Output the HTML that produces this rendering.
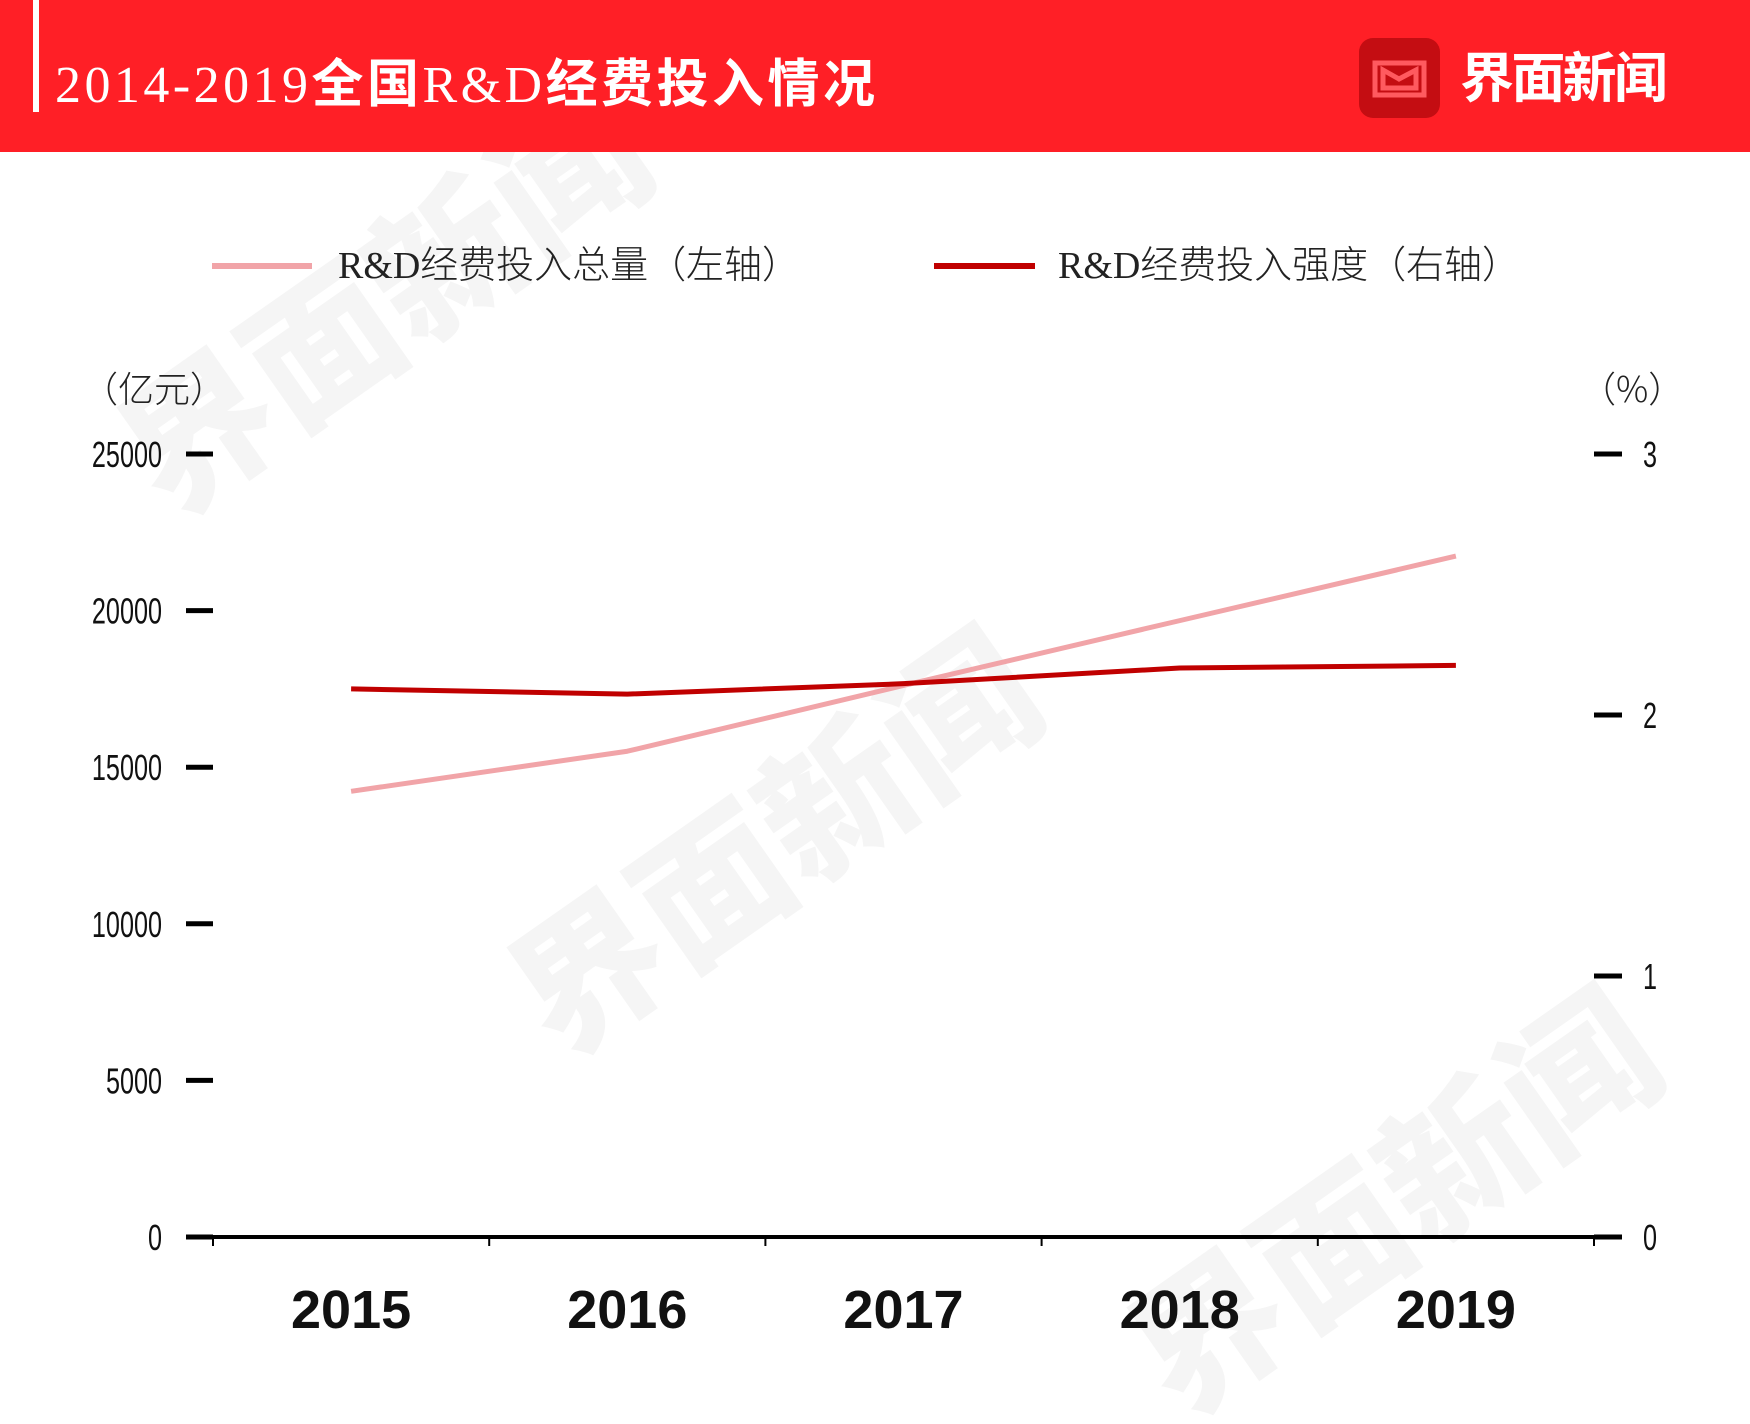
<!DOCTYPE html>
<html><head><meta charset="utf-8"><style>
html,body{margin:0;width:1750px;height:1424px;background:#fff;overflow:hidden;font-family:"Liberation Sans","Noto Sans CJK SC",sans-serif;}
svg{display:block;}
</style></head><body>
<svg width="1750" height="1424" xmlns="http://www.w3.org/2000/svg">
<g fill="#f5f5f5" font-family="Noto Sans CJK SC, sans-serif" font-weight="900" font-size="150">
<text x="560" y="1060" transform="rotate(-35 560 1060)">界面新闻</text>
<text x="170" y="520" transform="rotate(-35 170 520)">界面新闻</text>
<text x="1180" y="1420" transform="rotate(-35 1180 1420)">界面新闻</text>
</g>
<rect x="0" y="0" width="1750" height="152" fill="#ff1f26"/>
<rect x="33" y="0" width="6" height="112" fill="#fff"/>
<text x="55" y="102" font-size="52" fill="#fff" textLength="820" lengthAdjust="spacing" font-family="Liberation Serif, Noto Serif CJK SC, serif">2014-2019<tspan font-family="Noto Sans CJK SC, sans-serif" font-weight="bold">全国</tspan>R&amp;D<tspan font-family="Noto Sans CJK SC, sans-serif" font-weight="bold">经费投入情况</tspan></text>
<g>
<rect x="1359" y="38" width="81" height="80" rx="14" fill="#c40d12"/>
<path d="M1375 63 L1424 63 L1424 95 L1375 95 Z M1383 70 L1399 79 L1416 70 L1416 88 L1383 88 Z" fill="none" stroke="#ff5a5f" stroke-width="5"/>
<text x="1460" y="97" font-size="54" font-weight="bold" fill="#fff" textLength="208" font-family="Noto Sans CJK SC, sans-serif">界面新闻</text>
</g>
<g font-size="38" fill="#222" font-family="Liberation Serif, Noto Sans CJK SC, serif">
<line x1="212" y1="266" x2="312" y2="266" stroke="#f1a4a8" stroke-width="6"/>
<text x="338" y="278" textLength="462">R&amp;D<tspan font-family="Noto Sans CJK SC, sans-serif" font-weight="300">经费投入总量（左轴）</tspan></text>
<line x1="934" y1="266" x2="1035" y2="266" stroke="#c00000" stroke-width="6"/>
<text x="1058" y="278" textLength="462">R&amp;D<tspan font-family="Noto Sans CJK SC, sans-serif" font-weight="300">经费投入强度（右轴）</tspan></text>
</g>
<text x="82" y="402" font-size="36" font-weight="300" fill="#222" font-family="Noto Sans CJK SC, sans-serif">（亿元）</text>
<text x="1580" y="402" font-size="36" font-weight="300" fill="#222" font-family="Noto Sans CJK SC, sans-serif">（%）</text>
<g id="plot"></g>
</svg>
<script>
const categories=["2015","2016","2017","2018","2019"];
const totalValues=[14230,15510,17610,19680,21740];
const intensityValues=[2.10,2.08,2.12,2.18,2.19];
const leftTicks=[0,5000,10000,15000,20000,25000];
const rightTicks=[0,1,2,3];
const NS="http://www.w3.org/2000/svg";
const plot=document.getElementById('plot');
const y0=1237,yTop=454,xL=213,xR=1594;
const yL=v=>y0-(v/25000)*(y0-yTop);
const yR=v=>y0-(v/3)*(y0-yTop);
const band=(xR-xL)/categories.length;
const xC=i=>xL+band*(i+0.5);
function mk(tag,attrs){const e=document.createElementNS(NS,tag);for(const k in attrs)e.setAttribute(k,attrs[k]);plot.appendChild(e);return e;}
leftTicks.forEach(v=>{
 const t=mk('line',{x1:186,x2:213,y1:yL(v),y2:yL(v),stroke:'#000','stroke-width':5});
 
 
 const l=mk('text',{x:162,y:yL(v)+13,'text-anchor':'end','font-size':36,fill:'#111',transform:`translate(162 0) scale(0.7 1) translate(-162 0)`});
 l.textContent=v;
 
 
});
rightTicks.forEach(v=>{
 const t=mk('line',{x1:1594,x2:1622,y1:yR(v),y2:yR(v),stroke:'#000','stroke-width':5});
 
 
 const l=mk('text',{x:1643,y:yR(v)+13,'font-size':36,fill:'#111',transform:`translate(1643 0) scale(0.7 1) translate(-1643 0)`});
 l.textContent=v;
 
 
});
const ax=mk('line',{x1:186,x2:1622,y1:y0,y2:y0,stroke:'#000','stroke-width':4});


for(let i=0;i<=categories.length;i++){
 const t=mk('line',{x1:xL+band*i,x2:xL+band*i,y1:y0,y2:y0+9,stroke:'#000','stroke-width':2});
 
 
}
categories.forEach((c,i)=>{
 const l=mk('text',{x:xC(i),y:1328,'text-anchor':'middle','font-size':54,'font-weight':'bold',fill:'#111'});
 l.textContent=c;
 
 
});
const p1=mk('polyline',{points:totalValues.map((v,i)=>xC(i)+','+yL(v)).join(' '),fill:'none',stroke:'#f1a4a8','stroke-width':5,'stroke-linejoin':'round'});


const p2=mk('polyline',{points:intensityValues.map((v,i)=>xC(i)+','+yR(v)).join(' '),fill:'none',stroke:'#c00000','stroke-width':5,'stroke-linejoin':'round'});


</script>
</body></html>
